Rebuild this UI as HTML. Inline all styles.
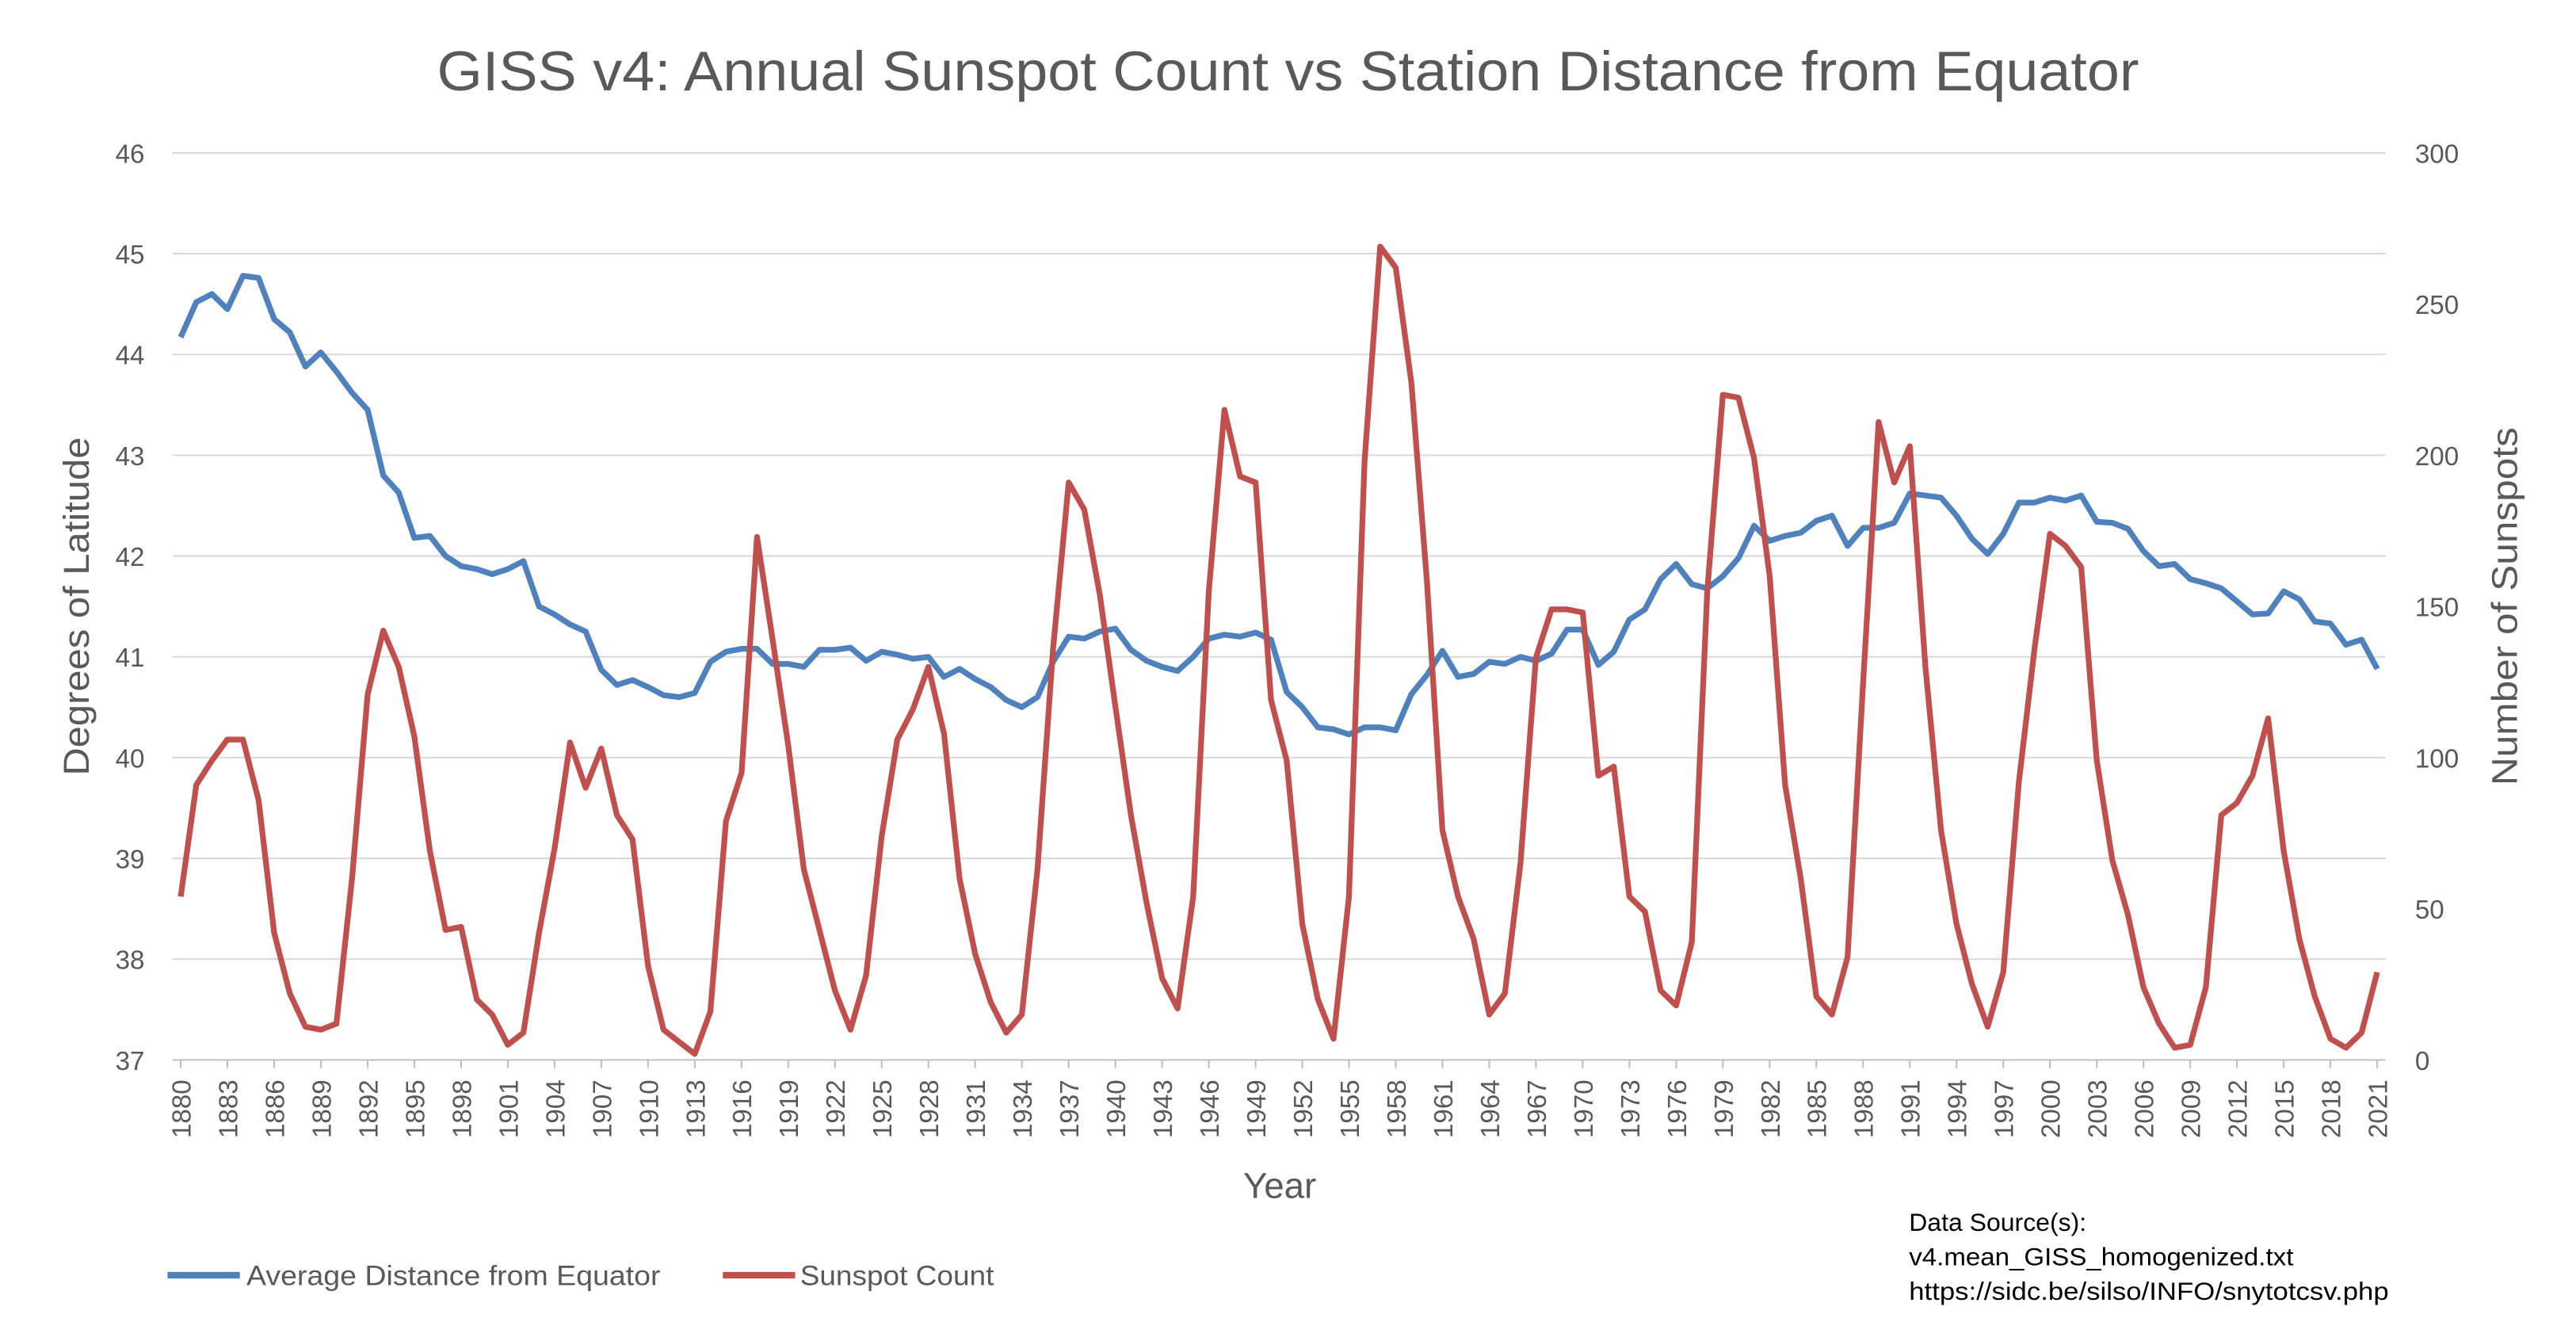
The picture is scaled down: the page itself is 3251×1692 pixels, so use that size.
<!DOCTYPE html>
<html><head><meta charset="utf-8"><style>
html,body{margin:0;padding:0;background:#fff;}
svg{display:block;}
text{font-family:"Liberation Sans",sans-serif;}
</style></head><body>
<svg id="s" width="3251" height="1692" viewBox="0 0 1568 816" xmlns="http://www.w3.org/2000/svg">
<rect width="1568" height="816" fill="#fff"/>
<text x="266" y="55" font-size="34" fill="#595959" textLength="1036" lengthAdjust="spacingAndGlyphs">GISS v4: Annual Sunspot Count vs Station Distance from Equator</text>
<g id="grid"></g>
<g id="lbl" font-size="16" fill="#595959"></g>
<text transform="translate(54,369) rotate(-90)" font-size="22" fill="#595959" text-anchor="middle" textLength="206" lengthAdjust="spacingAndGlyphs">Degrees of Latitude</text>
<text transform="translate(1532,369) rotate(-90)" font-size="22" fill="#595959" text-anchor="middle" textLength="218" lengthAdjust="spacingAndGlyphs">Number of Sunspots</text>
<text x="779" y="729" font-size="22" fill="#595959" text-anchor="middle">Year</text>
<line x1="102" y1="776" x2="146" y2="776" stroke="#4f81bd" stroke-width="4"/>
<text x="150" y="782" font-size="17" fill="#595959" textLength="252" lengthAdjust="spacingAndGlyphs">Average Distance from Equator</text>
<line x1="440" y1="776" x2="484" y2="776" stroke="#c0504d" stroke-width="4"/>
<text x="487" y="782" font-size="17" fill="#595959" textLength="118" lengthAdjust="spacingAndGlyphs">Sunspot Count</text>
<text x="1162" y="749" font-size="15" fill="#000" textLength="108" lengthAdjust="spacingAndGlyphs">Data Source(s):</text>
<text x="1162" y="770" font-size="15" fill="#000" textLength="234" lengthAdjust="spacingAndGlyphs">v4.mean_GISS_homogenized.txt</text>
<text x="1162" y="791" font-size="15" fill="#000" textLength="292" lengthAdjust="spacingAndGlyphs">https://sidc.be/silso/INFO/snytotcsv.php</text>
<polyline id="blue" fill="none" stroke="#4f81bd" stroke-width="3.5" stroke-linejoin="round"/>
<polyline id="red" fill="none" stroke="#c0504d" stroke-width="3.5" stroke-linejoin="round"/>
</svg>
<script>
var ns="http://www.w3.org/2000/svg";
function el(t,a,p,txt){var e=document.createElementNS(ns,t);for(var k in a)e.setAttribute(k,a[k]);if(txt!==undefined)e.textContent=txt;p.appendChild(e);return e;}
var g=document.getElementById('grid'),L=document.getElementById('lbl');
var X0=105,X1=1452;
function yl(v){return 645-(v-37)*61.333;}
function ys(v){return 645-v*1.84;}
function xy(yr){return 110+(yr-1880)*9.482;}
for(var d=37;d<=46;d++){var y=yl(d);el('line',{x1:X0,x2:X1,y1:y,y2:y,stroke:d==37?'#bfbfbf':'#d9d9d9','stroke-width':1},g);
el('text',{x:88,y:y+6,'text-anchor':'end'},L,d);}
for(var s=0;s<=300;s+=50){el('text',{x:1470,y:ys(s)+6},L,s);}
for(var yr=1880;yr<=2021;yr+=3){var x=xy(yr);el('line',{x1:x,x2:x,y1:645,y2:650,stroke:'#bfbfbf'},g);
el('text',{transform:'translate('+(x+6)+',657) rotate(-90)','text-anchor':'end'},L,yr);}
var B=[44.17,44.52,44.6,44.45,44.78,44.76,44.35,44.22,43.88,44.02,43.83,43.62,43.45,42.8,42.63,42.18,42.2,42.0,41.9,41.87,41.82,41.87,41.95,41.5,41.42,41.32,41.25,40.87,40.72,40.77,40.7,40.62,40.6,40.64,40.95,41.05,41.08,41.08,40.93,40.93,40.9,41.07,41.07,41.09,40.96,41.05,41.02,40.98,41.0,40.8,40.88,40.78,40.7,40.57,40.5,40.6,40.95,41.2,41.18,41.25,41.28,41.07,40.96,40.9,40.86,41.0,41.18,41.22,41.2,41.24,41.17,40.65,40.5,40.3,40.28,40.23,40.3,40.3,40.27,40.63,40.82,41.06,40.8,40.83,40.95,40.93,41.0,40.96,41.03,41.27,41.27,40.92,41.05,41.37,41.47,41.77,41.92,41.72,41.68,41.8,41.98,42.3,42.15,42.2,42.23,42.35,42.4,42.1,42.28,42.28,42.33,42.62,42.6,42.58,42.4,42.17,42.02,42.22,42.53,42.53,42.58,42.55,42.6,42.34,42.33,42.27,42.05,41.9,41.92,41.77,41.73,41.68,41.55,41.42,41.43,41.65,41.57,41.35,41.33,41.12,41.17,40.88];
var R=[54,91,99,106,106,86,42,22,11,10,12,60,121,142,130,107,69,43,44,20,15,5,9,42,70,105,90,103,81,73,31,10,6,2,16,79,95,173,139,104,63,43,23,10,28,74,106,116,130,108,60,35,19,9,15,63,136,191,182,154,117,81,52,27,17,54,155,215,193,191,119,99,45,20,7,54,198,269,262,224,158,76,54,40,15,22,65,133,149,149,148,94,97,54,49,23,18,39,155,220,219,199,160,91,60,21,15,34,125,211,191,203,130,76,45,25,11,29,92,136,174,170,163,99,66,48,24,12,4,5,24,81,85,94,113,69,40,21,7,4,9,29];
document.getElementById('blue').setAttribute('points',B.map(function(v,i){return xy(1880+i).toFixed(1)+','+yl(v).toFixed(1)}).join(' '));
document.getElementById('red').setAttribute('points',R.map(function(v,i){return xy(1880+i).toFixed(1)+','+ys(v).toFixed(1)}).join(' '));
</script>
</body></html>
